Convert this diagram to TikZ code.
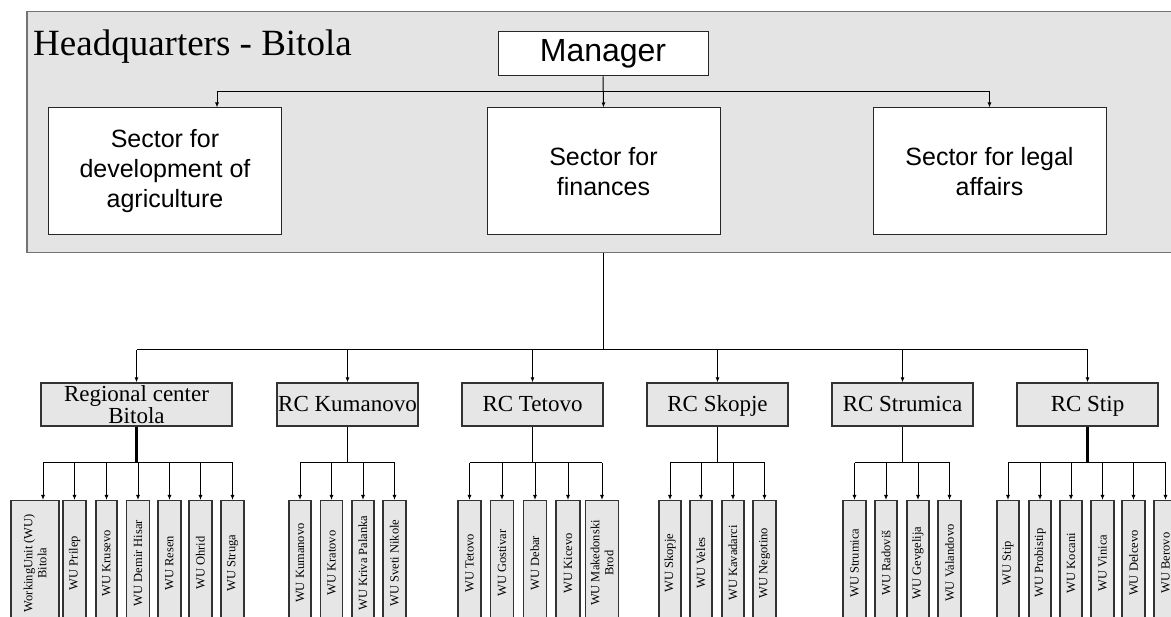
\documentclass[tikz,border=0pt]{standalone}
\usepackage{fontspec}
\setmainfont{Liberation Serif}
\setsansfont{Liberation Sans}
\usetikzlibrary{arrows.meta,positioning}
\definecolor{hqgray}{HTML}{E4E4E4}
\definecolor{boxgray}{HTML}{E6E6E6}
\tikzset{
  hqbox/.style={draw=black!55,fill=hqgray,line width=1.5pt},
  hqtitle/.style={inner sep=0pt,font=\fontsize{37}{42}\selectfont},
  mgrbox/.style={draw=black!85,fill=white,line width=1pt,minimum width=210pt,minimum height=44pt,
    font=\sffamily\fontsize{32}{36}\selectfont},
  sector/.style={draw=black!85,fill=white,line width=1pt,minimum width=233pt,minimum height=127pt,
    align=center,font=\sffamily\fontsize{25}{30}\selectfont},
  rcbox/.style={draw=black!80,fill=boxgray,line width=1.2pt,minimum width=141pt,minimum height=43pt,
    inner sep=1pt,align=center,font=\fontsize{23}{16}\selectfont},
  rcone/.style={rcbox,text height=17pt,text depth=2pt},
  wubox/.style={draw=black!80,fill=boxgray,line width=1.2pt,rotate=90,anchor=east,
    minimum width=125pt,minimum height=23pt,inner sep=1pt,align=center,
    font=\fontsize{12.5}{14}\selectfont},
  link/.style={line width=1pt},
  arr/.style={link,-{Latex[length=5pt,width=4pt]}},
  trunk/.style={line width=2.4pt},
}
\begin{document}
\begin{tikzpicture}[x=1pt,y=-1pt]
  \useasboundingbox[fill=white] (0,0) rectangle (1171,617);
  % headquarters
  \node[hqbox,anchor=north west,minimum width=1170pt,minimum height=241pt] (hq) at (26,11) {};
  \node[hqtitle,anchor=base west] (title) at (33,56) {Headquarters - Bitola};
  \node[mgrbox] (mgr) at (603,54) {Manager};
  \node[sector] (secAgr) at (165,171.5) {Sector for\\development of\\agriculture};
  \node[sector] (secFin) at (603.5,171.5) {Sector for\\finances};
  \node[sector] (secLeg) at (989.5,171.5) {Sector for legal\\affairs};
  \coordinate (hqbus) at (mgr.south |- 0,92);
  \draw[arr] (mgr.south) -- (secFin.north);
  \draw[arr] (hqbus) -| ([xshift=52pt]secAgr.north);
  \draw[arr] (hqbus) -| (secLeg.north);
  % regional centers
  \node[rcbox,minimum width=191pt] (rcBit) at (136.5,404.5) {Regional center\\Bitola};
  \node[rcone] (rcKum) at (347.5,404.5) {RC Kumanovo};
  \node[rcone] (rcTet) at (532.5,404.5) {RC Tetovo};
  \node[rcone] (rcSko) at (717.5,404.5) {RC Skopje};
  \node[rcone] (rcStr) at (902.5,404.5) {RC Strumica};
  \node[rcone] (rcSti) at (1087.5,404.5) {RC Stip};
  \coordinate (rcbus) at (secFin |- 0,350);
  \draw[link] (secFin |- hq.south) -- (rcbus);
  \draw[link] (rcBit.north |- rcbus) -- (rcSti.north |- rcbus);
  \foreach \rc in {rcBit,rcKum,rcTet,rcSko,rcStr,rcSti}
    \draw[arr] (\rc.north |- rcbus) -- (\rc.north);
  % working units of Bitola
  \node[wubox,minimum height=48pt] (wuB1) at (35,500) {WorkingUnit (WU)\\Bitola};
  \node[wubox] (wuB2) at (74.5,500) {WU Prilep};
  \node[wubox,minimum height=21pt] (wuB3) at (106.5,500) {WU Krusevo};
  \node[wubox] (wuB4) at (138,500) {WU Demir Hisar};
  \node[wubox] (wuB5) at (169.5,500) {WU Resen};
  \node[wubox] (wuB6) at (200.5,500) {WU Ohrid};
  \node[wubox] (wuB7) at (232.5,500) {WU Struga};
  % working units of Kumanovo
  \node[wubox,minimum height=22pt] (wuK1) at (300,500) {WU Kumanovo};
  \node[wubox,minimum height=22pt] (wuK2) at (331.5,500) {WU Kratovo};
  \node[wubox,minimum height=22pt] (wuK3) at (363,500) {WU Kriva Palanka};
  \node[wubox] (wuK4) at (394.5,500) {WU Sveti Nikole};
  % working units of Tetovo
  \node[wubox] (wuT1) at (469.5,500) {WU Tetovo};
  \node[wubox] (wuT2) at (502,500) {WU Gostivar};
  \node[wubox] (wuT3) at (535,500) {WU Debar};
  \node[wubox,minimum height=24pt] (wuT4) at (568,500) {WU Kicevo};
  \node[wubox,minimum height=33pt] (wuT5) at (602,500) {WU Makedonski\\Brod};
  % working units of Skopje
  \node[wubox,minimum height=22pt] (wuS1) at (670,500) {WU Skopje};
  \node[wubox,minimum height=22pt] (wuS2) at (701,500) {WU Veles};
  \node[wubox,minimum height=22pt] (wuS3) at (733,500) {WU Kavadarci};
  \node[wubox] (wuS4) at (764.5,500) {WU Negotino};
  % working units of Strumica
  \node[wubox] (wuR1) at (854.5,500) {WU Strumica};
  \node[wubox,minimum height=22pt] (wuR2) at (886,500) {WU Radoviš};
  \node[wubox,minimum height=22pt] (wuR3) at (918,500) {WU Gevgelija};
  \node[wubox] (wuR4) at (949.5,500) {WU Valandovo};
  % working units of Stip
  \node[wubox,minimum height=22pt] (wuP1) at (1008,500) {WU Stip};
  \node[wubox,minimum height=22pt] (wuP2) at (1040,500) {WU Probistip};
  \node[wubox,minimum height=22pt] (wuP3) at (1071,500) {WU Kocani};
  \node[wubox] (wuP4) at (1102.5,500) {WU Vinica};
  \node[wubox] (wuP5) at (1133.5,500) {WU Delcevo};
  \node[wubox] (wuP6) at (1165.5,500) {WU Berovo};
  % buses from the regional centers
  \coordinate (busB) at (rcBit.south |- 0,463);
  \coordinate (busK) at (rcKum.south |- 0,463);
  \coordinate (busT) at (rcTet.south |- 0,463);
  \coordinate (busS) at (rcSko.south |- 0,463);
  \coordinate (busR) at (rcStr.south |- 0,463);
  \coordinate (busP) at (rcSti.south |- 0,463);
  \draw[trunk] (rcBit.south) -- (busB);
  \draw[link] (rcKum.south) -- (busK);
  \draw[link] (rcTet.south) -- (busT);
  \draw[link] (rcSko.south) -- (busS);
  \draw[link] (rcStr.south) -- (busR);
  \draw[trunk] (rcSti.south) -- (busP);
  \draw[link] ([xshift=8pt]wuB1.east |- busB) -- (wuB7.east |- busB);
  \draw[link] (wuK1.east |- busK) -- (wuK4.east |- busK);
  \draw[link] (wuT1.east |- busT) -- (wuT5.east |- busT);
  \draw[link] (wuS1.east |- busS) -- (wuS4.east |- busS);
  \draw[link] (wuR1.east |- busR) -- (wuR4.east |- busR);
  \draw[link] (wuP1.east |- busP) -- (wuP6.east |- busP);
  \draw[arr] ([xshift=8pt]wuB1.east |- busB) -- ([xshift=8pt]wuB1.east);
  \foreach \wu in {wuB2,wuB3,wuB4,wuB5,wuB6,wuB7}
    \draw[arr] (\wu.east |- busB) -- (\wu.east);
  \foreach \wu in {wuK1,wuK2,wuK3,wuK4}
    \draw[arr] (\wu.east |- busK) -- (\wu.east);
  \foreach \wu in {wuT1,wuT2,wuT3,wuT4,wuT5}
    \draw[arr] (\wu.east |- busT) -- (\wu.east);
  \foreach \wu in {wuS1,wuS2,wuS3,wuS4}
    \draw[arr] (\wu.east |- busS) -- (\wu.east);
  \foreach \wu in {wuR1,wuR2,wuR3,wuR4}
    \draw[arr] (\wu.east |- busR) -- (\wu.east);
  \foreach \wu in {wuP1,wuP2,wuP3,wuP4,wuP5,wuP6}
    \draw[arr] (\wu.east |- busP) -- (\wu.east);
\end{tikzpicture}
\end{document}
